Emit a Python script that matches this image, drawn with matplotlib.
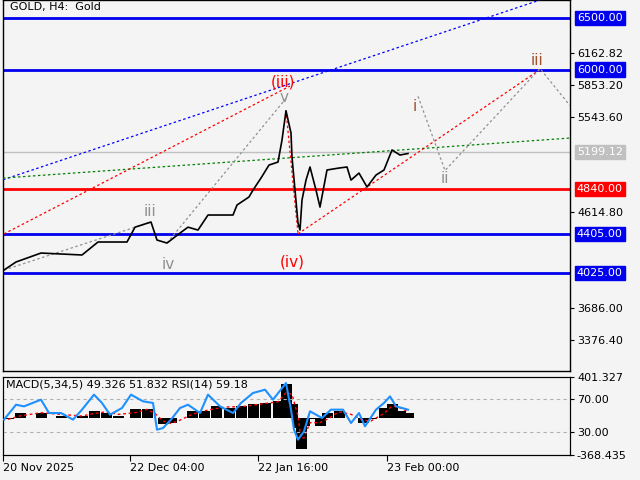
import matplotlib
matplotlib.use("Agg")
import matplotlib.pyplot as plt
import matplotlib.transforms as mt
import numpy as np

# price path (x in chart pixels, price)
px = [4,16,41,82,98,127,135,151,157,167,180,188,198,208,233,237,249,253,261,269,278,282,286,291,292,298,300,302,306,310,316,320,327,339,347,351,359,367,376,384,392,400,408]
price = [4054,4132,4219,4200,4326,4326,4470,4520,4345,4316,4413,4470,4442,4588,4588,4685,4763,4830,4947,5073,5102,5316,5600,5384,5151,4510,4442,4733,4927,5054,4830,4665,5025,5044,5054,4927,4995,4860,4976,5025,5219,5170,5185]

levels_blue = [6500.00, 6000.00, 4405.00, 4025.00]
level_red = 4840.00
last_price = 5199.12
yticks = [6162.82, 5853.20, 5543.60, 4614.80, 3686.00, 3376.40]

rsi_x = [4,16,24,41,49,61,73,82,94,102,110,122,131,143,153,157,163,171,180,188,200,208,220,233,241,253,265,273,286,291,294,298,304,310,322,331,343,351,359,365,376,384,390,396,408]
rsi = [45.0,63.1,61.1,69.2,53.0,53.0,45.0,57.1,75.3,65.2,51.0,59.1,75.3,67.2,65.2,32.8,34.8,45.0,59.1,63.1,53.0,75.3,61.1,53.0,65.2,77.3,81.3,69.2,89.4,57.1,32.8,20.7,30.8,55.1,47.0,57.1,57.1,40.9,53.0,36.9,57.1,65.2,73.2,61.1,57.1]

macd_x = [8,20,41,61,82,94,106,118,135,147,155,163,171,180,192,204,216,229,241,253,265,278,286,292,298,301,304,310,320,327,339,351,363,371,384,392,400,408]
macd = [-16,49,49,16,16,66,49,16,82,82,0,-66,-49,0,66,66,115,99,115,132,148,164,329,132,-99,-313,-82,-16,-82,49,66,0,-49,-16,99,132,66,49]

time_labels = ["20 Nov 2025", "22 Dec 04:00", "22 Jan 16:00", "23 Feb 00:00"]
time_pos = [3, 130, 258, 387]

BG = "#f4f4f4"
fig = plt.figure(figsize=(6.4, 4.8), dpi=100, facecolor=BG)
ax = fig.add_axes([3/640, 109/480, 567/640, 371/480], facecolor=BG)
ax.set_xlim(3, 570)
ax.set_ylim(3074, 6675)
for s in ax.spines.values():
    s.set_color("black"); s.set_linewidth(1)

for lv in levels_blue:
    ax.axhline(lv, color="#0000ee", lw=2, zorder=2)
ax.axhline(level_red, color="#ff0000", lw=2, zorder=2)
ax.axhline(last_price, color="#c0c0c0", lw=1, zorder=1)

ax.plot(px, price, color="black", lw=1.2, zorder=4)

dot = dict(lw=0.9, linestyle=(0, (2, 2)), zorder=3)
ax.plot([3, 540], [4930, 6675], color="#0000ff", **dot)
ax.plot([3, 570], [4947, 5335], color="#008000", **dot)
ax.plot([4, 290], [4405, 5840], color="#ff0000", **dot)
ax.plot([298, 540], [4405, 6000], color="#ff0000", **dot)
ax.plot([286, 298], [5600, 4405], color="#ff0000", **dot)
ax.plot([4, 151], [4054, 4520], color="#909090", **dot)
ax.plot([167, 286], [4316, 5720], color="#909090", **dot)
ax.plot([418, 445, 540, 570], [5740, 5020, 6010, 5650], color="#909090", **dot)

fs = 11
ax.text(283, 5880, "(iii)", color="#ff0000", fontsize=fs, ha="center", va="center")
ax.text(284, 5730, "v", color="#909090", fontsize=fs, ha="center", va="center")
ax.text(150, 4620, "iii", color="#909090", fontsize=fs, ha="center", va="center")
ax.text(168, 4110, "iv", color="#909090", fontsize=fs, ha="center", va="center")
ax.text(292, 4130, "(iv)", color="#ff0000", fontsize=fs, ha="center", va="center")
ax.text(415, 5640, "i", color="#a0522d", fontsize=fs, ha="center", va="center")
ax.text(445, 4940, "ii", color="#909090", fontsize=fs, ha="center", va="center")
ax.text(537, 6090, "iii", color="#a0522d", fontsize=fs, ha="center", va="center")

ax.text(0.012, 0.995, "GOLD, H4:  Gold", transform=ax.transAxes, fontsize=8, va="top", ha="left")

ax.set_xticks([])
ax.yaxis.tick_right()
ax.set_yticks(yticks)
ax.set_yticklabels([f"{v:.2f}" for v in yticks], fontsize=8)
ax.tick_params(axis="y", length=3, pad=2, direction="out")

tr = mt.blended_transform_factory(ax.transAxes, ax.transData)
def box(v, fc, tc="white"):
    ax.text(1.012, v, f"{v:.2f}", transform=tr, fontsize=8, color=tc, va="center", ha="left",
            bbox=dict(boxstyle="square,pad=0.2", fc=fc, ec=fc), zorder=10, clip_on=False)
for lv in levels_blue:
    box(lv, "#0000ee")
box(level_red, "#ff0000")
box(last_price, "#c0c0c0")

# indicator panel
ax2 = fig.add_axes([3/640, 25/480, 567/640, 78/480], facecolor=BG)
ax2.set_xlim(3, 570)
ax2.set_ylim(-368.435, 401.327)
ax2.bar(macd_x, macd, width=11, color="black", zorder=2)
sig = np.convolve(np.r_[macd[0], macd], np.ones(2) / 2, mode="valid")
ax2.plot(macd_x, sig, color="#ff0000", lw=1, linestyle=(0, (2, 2)), zorder=3)
ax2.set_xticks(time_pos)
ax2.set_xticklabels(time_labels, fontsize=8, ha="left")
ax2.tick_params(axis="x", length=4, pad=2)

ax3 = ax2.twinx()
ax2.yaxis.tick_right()
ax2.set_yticks([401.327, -368.435])
ax2.set_yticklabels(["401.327", "-368.435"], fontsize=8)
ax2.tick_params(axis="y", length=3, pad=2, left=False, labelleft=False, right=True, labelright=True)
ax3.set_ylim(2.1, 96.7)
ax3.axhline(70, color="#b0b0b0", lw=0.8, linestyle=(0, (3, 3)))
ax3.axhline(30, color="#b0b0b0", lw=0.8, linestyle=(0, (3, 3)))
ax3.plot(rsi_x, rsi, color="#1e90ff", lw=1.5, zorder=4)
ax3.set_yticks([70, 30])
ax3.set_yticklabels(["70.00", "30.00"], fontsize=8)
ax3.tick_params(axis="y", length=3, pad=2)
ax3.text(0.005, 0.97, "MACD(5,34,5) 49.326 51.832 RSI(14) 59.18", transform=ax3.transAxes,
         fontsize=8, va="top", ha="left")
for a in (ax2, ax3):
    for s in a.spines.values():
        s.set_color("black")

fig.savefig("out.png", dpi=100, facecolor=BG)
